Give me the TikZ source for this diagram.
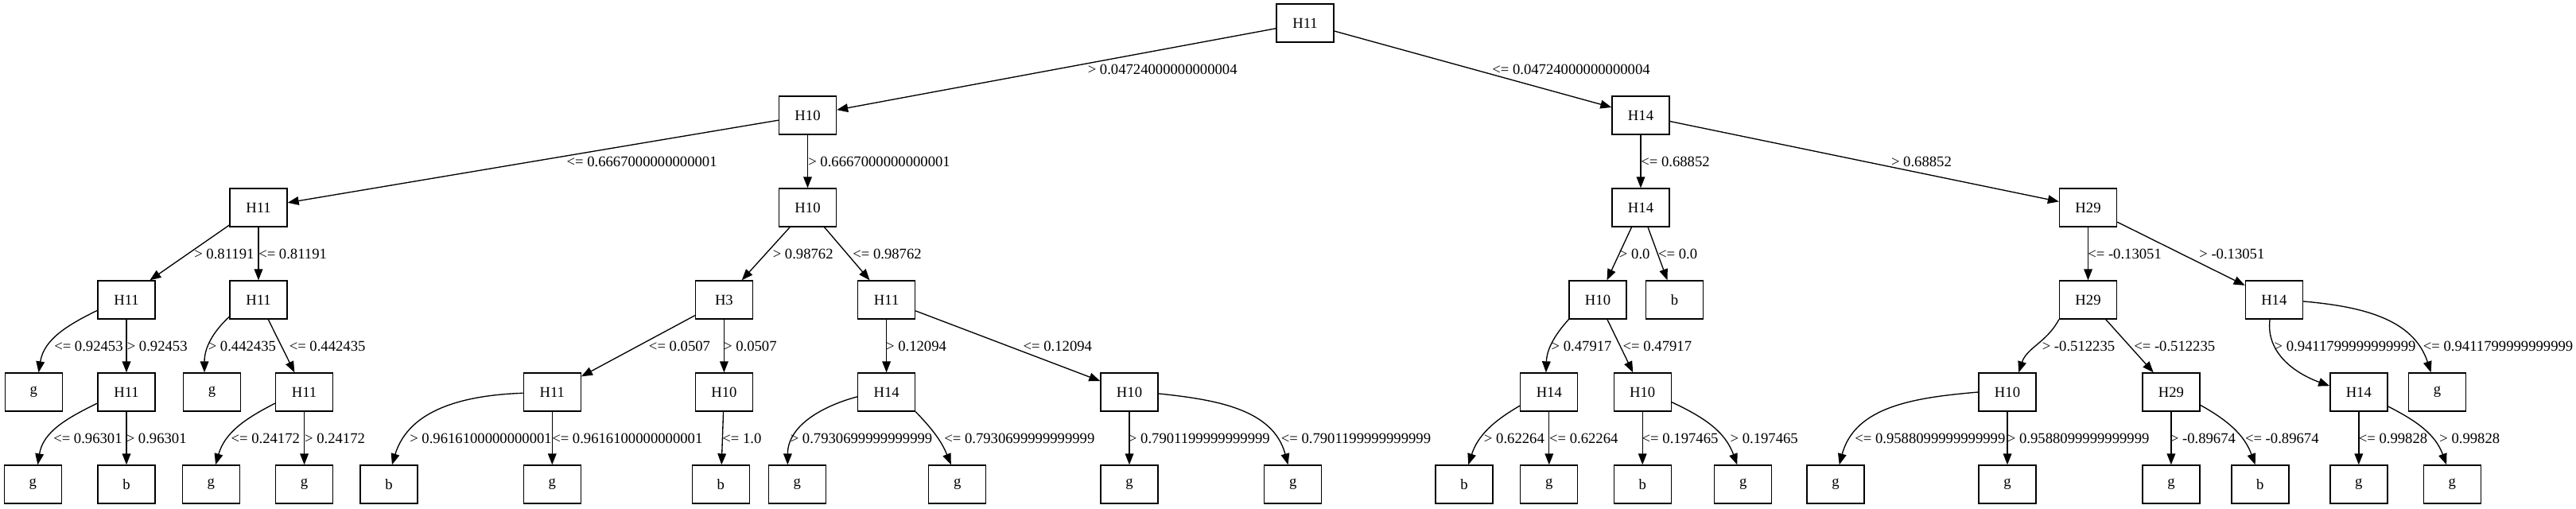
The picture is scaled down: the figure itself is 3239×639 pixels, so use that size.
\documentclass[tikz,border=0pt]{standalone}
\usepackage{fontspec}
\setmainfont{Liberation Serif}
\usetikzlibrary{arrows.meta}
\begin{document}
\begin{tikzpicture}[x=0.75bp,y=0.75bp,
  nbox/.style={draw, line width=1bp, minimum width=54bp, minimum height=36bp, inner sep=0pt, font=\fontsize{14bp}{16bp}\selectfont},
  conn/.style={line width=1bp, -{Triangle[length=10.5bp,width=8bp]}},
  elab/.style={anchor=west, inner sep=0pt, font=\fontsize{14bp}{16bp}\selectfont}]
\useasboundingbox (0,0) rectangle (3239,-639);
% level 0
\node[nbox] (r) at (1641,-29) {H11};
% level 1
\node[nbox] (a) at (1015.5,-145) {H10};
\node[nbox] (bb) at (2063,-145) {H14};
% level 2
\node[nbox] (c) at (325,-261) {H11};
\node[nbox] (d) at (1015.5,-261) {H10};
\node[nbox] (o) at (2063,-261) {H14};
\node[nbox] (p) at (2625.5,-261) {H29};
% level 3
\node[nbox] (e) at (159,-377) {H11};
\node[nbox] (f) at (325,-377) {H11};
\node[nbox] (i) at (910.4,-377) {H3};
\node[nbox] (j) at (1114.6,-377) {H11};
\node[nbox] (q) at (2009,-377) {H10};
\node[nbox] (ob) at (2105.5,-377) {b};
\node[nbox] (t) at (2625.5,-377) {H29};
\node[nbox] (u) at (2859.3,-377) {H14};
% level 4
\node[nbox] (e1) at (42.4,-493) {g};
\node[nbox] (gg) at (159,-493) {H11};
\node[nbox] (f1) at (266.5,-493) {g};
\node[nbox] (h) at (382.6,-493) {H11};
\node[nbox] (k) at (694.3,-493) {H11};
\node[nbox] (l) at (910.4,-493) {H10};
\node[nbox] (m) at (1114.6,-493) {H14};
\node[nbox] (n) at (1420,-493) {H10};
\node[nbox] (rr) at (1947.8,-493) {H14};
\node[nbox] (s) at (2065.2,-493) {H10};
\node[nbox] (v) at (2524,-493) {H10};
\node[nbox] (w) at (2729.9,-493) {H29};
\node[nbox] (xx) at (2965.8,-493) {H14};
\node[nbox] (u2) at (3064.6,-493) {g};
% level 5
\node[nbox] (g1) at (41.3,-609) {g};
\node[nbox] (g2) at (159,-609) {b};
\node[nbox] (h1) at (265.4,-609) {g};
\node[nbox] (h2) at (382.6,-609) {g};
\node[nbox] (k1) at (489,-609) {b};
\node[nbox] (k2) at (694.3,-609) {g};
\node[nbox] (l1) at (906.4,-609) {b};
\node[nbox] (m1) at (1002.4,-609) {g};
\node[nbox] (m2) at (1203.8,-609) {g};
\node[nbox] (n1) at (1420,-609) {g};
\node[nbox] (n2) at (1625.7,-609) {g};
\node[nbox] (r1) at (1841,-609) {b};
\node[nbox] (r2) at (1947.8,-609) {g};
\node[nbox] (s1) at (2065.2,-609) {b};
\node[nbox] (s2) at (2191.8,-609) {g};
\node[nbox] (v1) at (2307.9,-609) {g};
\node[nbox] (v2) at (2524,-609) {g};
\node[nbox] (w1) at (2729.9,-609) {g};
\node[nbox] (w2) at (2841.8,-609) {b};
\node[nbox] (x1) at (2965.8,-609) {g};
\node[nbox] (x2) at (3083.2,-609) {g};
% straight edges
\draw[conn] (r) -- (a);
\draw[conn] (r) -- (bb);
\draw[conn] (a) -- (c);
\draw[conn] (a) -- (d);
\draw[conn] (bb) -- (o);
\draw[conn] (bb) -- (p);
\draw[conn] (c.-149) -- (e.40);
\draw[conn] (c) -- (f);
\draw[conn] (d) -- (i);
\draw[conn] (d) -- (j);
\draw[conn] (o) -- (q);
\draw[conn] (o) -- (ob);
\draw[conn] (p) -- (t);
\draw[conn] (p) -- (u);
\draw[conn] (e) -- (gg);
\draw[conn] (f) -- (h);
\draw[conn] (i) -- (k);
\draw[conn] (i) -- (l);
\draw[conn] (j) -- (m);
\draw[conn] (j) -- (n);
\draw[conn] (q) -- (s);
\draw[conn] (t.south west) to[out=-118,in=72] (v.60);
\draw[conn] (t) -- (w);
\draw[conn] (gg) -- (g2);
\draw[conn] (h) -- (h2);
\draw[conn] (k) -- (k2);
\draw[conn] (l) -- (l1);
\draw[conn] (n) -- (n1);
\draw[conn] (rr) -- (r2);
\draw[conn] (s) -- (s1);
\draw[conn] (v) -- (v2);
\draw[conn] (w) -- (w1);
\draw[conn] (xx) -- (x1);
% curved edges
\draw[conn] (e.-160) to[out=206,in=81] (e1.76.5);
\draw[conn] (gg.-159) to[out=206,in=81] (g1.76.5);
\draw[conn] (f.-150.5) to[out=223,in=90] (f1.111);
\draw[conn] (h.-159) to[out=207,in=74] (h1.77);
\draw[conn] (k.182) to[out=182,in=73] (k1.81);
\draw[conn] (m.-171.6) to[out=195,in=90] (m1.116);
\draw[conn] (m.south east) to[out=-46,in=112] (m2.108);
\draw[conn] (n.-3) to[out=-6,in=105] (n2.104);
\draw[conn] (q.south west) to[out=228,in=88] (rr.99);
\draw[conn] (rr.-155) to[out=210,in=72] (r1.78.5);
\draw[conn] (s.-19.5) to[out=-25,in=110] (s2.107);
\draw[conn] (v.west) to[out=185,in=75] (v1.79.5);
\draw[conn] (w.-24.5) to[out=-29,in=110] (w2.104);
\draw[conn] (u.-102) to[out=-97,in=160] (xx.168.5);
\draw[conn] (u.-3.6) to[out=-5,in=108] (u2.108);
\draw[conn] (xx.-26.7) to[out=-27,in=110] (x2.106);
% labels y=87
\node[elab] (t1) at (1367.5,-87) {> 0.04724000000000004};
\node[elab] (t2) at (1876,-87) {<= 0.04724000000000004};
% y=203
\node[elab] (t3) at (712.3,-203) {<= 0.6667000000000001};
\node[elab] (t4) at (1016,-203) {> 0.6667000000000001};
\node[elab] (t5) at (2063,-203) {<= 0.68852};
\node[elab] (t6) at (2377.7,-203) {> 0.68852};
% y=319
\node[elab] (t7) at (244,-319) {> 0.81191};
\node[elab] (t8) at (325,-319) {<= 0.81191};
\node[elab] (t9) at (971.5,-319) {> 0.98762};
\node[elab] (t10) at (1072,-319) {<= 0.98762};
\node[elab] (t11) at (2035.7,-319) {> 0.0};
\node[elab] (t12) at (2084.8,-319) {<= 0.0};
\node[elab] (t13) at (2625,-319) {<= -0.13051};
\node[elab] (t14) at (2765,-319) {> -0.13051};
% y=435
\node[elab] (t15) at (68,-435) {<= 0.92453};
\node[elab] (t16) at (159.5,-435) {> 0.92453};
\node[elab] (t17) at (261.5,-435) {> 0.442435};
\node[elab] (t18) at (363.5,-435) {<= 0.442435};
\node[elab] (t19) at (815.7,-435) {<= 0.0507};
\node[elab] (t20) at (909.8,-435) {> 0.0507};
\node[elab] (t21) at (1113.8,-435) {> 0.12094};
\node[elab] (t22) at (1286.4,-435) {<= 0.12094};
\node[elab] (t23) at (1950.4,-435) {> 0.47917};
\node[elab] (t24) at (2040.4,-435) {<= 0.47917};
\node[elab] (t25) at (2567.5,-435) {> -0.512235};
\node[elab] (t26) at (2683,-435) {<= -0.512235};
\node[elab] (t27) at (2859.3,-435) {> 0.9411799999999999};
\node[elab] (t28) at (3046.6,-435) {<= 0.9411799999999999};
% y=551
\node[elab] (t29) at (67,-551) {<= 0.96301};
\node[elab] (t30) at (158.5,-551) {> 0.96301};
\node[elab] (t31) at (290.3,-551) {<= 0.24172};
\node[elab] (t32) at (382.8,-551) {> 0.24172};
\node[elab] (t33) at (515,-551) {> 0.9616100000000001};
\node[elab] (t34) at (694,-551) {<= 0.9616100000000001};
\node[elab] (t35) at (908,-551) {<= 1.0};
\node[elab] (t36) at (993.5,-551) {> 0.7930699999999999};
\node[elab] (t37) at (1187,-551) {<= 0.7930699999999999};
\node[elab] (t38) at (1418.7,-551) {> 0.7901199999999999};
\node[elab] (t39) at (1610.5,-551) {<= 0.7901199999999999};
\node[elab] (t40) at (1865.7,-551) {> 0.62264};
\node[elab] (t41) at (1947.8,-551) {<= 0.62264};
\node[elab] (t42) at (2064.4,-551) {<= 0.197465};
\node[elab] (t43) at (2175.3,-551) {> 0.197465};
\node[elab] (t44) at (2332,-551) {<= 0.9588099999999999};
\node[elab] (t45) at (2523.6,-551) {> 0.9588099999999999};
\node[elab] (t46) at (2728.6,-551) {> -0.89674};
\node[elab] (t47) at (2822.7,-551) {<= -0.89674};
\node[elab] (t48) at (2965.5,-551) {<= 0.99828};
\node[elab] (t49) at (3067,-551) {> 0.99828};
\end{tikzpicture}
\end{document}
